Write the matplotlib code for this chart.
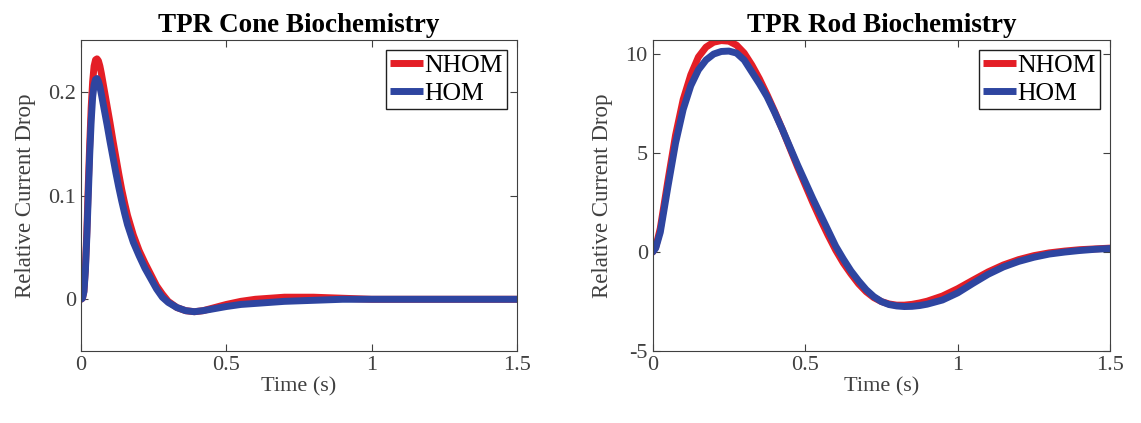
import numpy as np
import matplotlib.pyplot as plt

# cone data
cone_t = [0, 0.005, 0.01, 0.015, 0.02, 0.025, 0.03, 0.035, 0.04, 0.045, 0.05, 0.055, 0.06,
          0.065, 0.07, 0.08, 0.09, 0.1, 0.11, 0.12, 0.13, 0.14, 0.15, 0.16, 0.18, 0.2, 0.22,
          0.24, 0.26, 0.28, 0.3, 0.33, 0.36, 0.39, 0.42, 0.46, 0.5, 0.55, 0.6, 0.65, 0.7,
          0.8, 0.9, 1.0, 1.1, 1.2, 1.35, 1.5]
cone_nhom = [0, 0.001, 0.008, 0.03, 0.065, 0.11, 0.15, 0.185, 0.21, 0.225, 0.231, 0.232, 0.23,
             0.225, 0.218, 0.202, 0.186, 0.17, 0.153, 0.137, 0.121, 0.106, 0.093, 0.081, 0.062,
             0.047, 0.035, 0.024, 0.013, 0.005, -0.002, -0.008, -0.011, -0.012, -0.011, -0.008,
             -0.005, -0.002, 0.0, 0.001, 0.002, 0.002, 0.001, 0.0, 0.0, 0.0, 0.0, 0.0]
cone_hom = [0, 0.001, 0.007, 0.027, 0.06, 0.1, 0.14, 0.172, 0.195, 0.207, 0.212, 0.213, 0.21,
            0.205, 0.198, 0.183, 0.168, 0.152, 0.137, 0.122, 0.108, 0.095, 0.083, 0.072, 0.055,
            0.042, 0.03, 0.02, 0.01, 0.002, -0.003, -0.008, -0.011, -0.012, -0.011, -0.009,
            -0.007, -0.005, -0.004, -0.003, -0.002, -0.001, 0.0, 0.0, 0.0, 0.0, 0.0, 0.0]

# rod data
rod_t = [0, 0.01, 0.025, 0.05, 0.075, 0.1, 0.125, 0.15, 0.175, 0.2, 0.225, 0.25, 0.275, 0.3,
         0.325, 0.35, 0.375, 0.4, 0.425, 0.45, 0.475, 0.5, 0.525, 0.55, 0.575, 0.6, 0.625,
         0.65, 0.675, 0.7, 0.725, 0.75, 0.775, 0.8, 0.825, 0.85, 0.875, 0.9, 0.95, 1.0, 1.05,
         1.1, 1.15, 1.2, 1.25, 1.3, 1.35, 1.4, 1.45, 1.5]
rod_nhom = [0, 0.25, 1.2, 3.6, 5.9, 7.7, 8.95, 9.85, 10.35, 10.6, 10.68, 10.65, 10.45, 10.05,
            9.45, 8.75, 7.95, 7.1, 6.2, 5.25, 4.3, 3.4, 2.5, 1.65, 0.85, 0.1, -0.55,
            -1.1, -1.6, -2.0, -2.3, -2.5, -2.62, -2.68, -2.68, -2.64, -2.57, -2.48, -2.22, -1.85, -1.42,
            -1.0, -0.65, -0.38, -0.18, -0.04, 0.05, 0.12, 0.16, 0.2]
rod_hom = [0, 0.2, 1.0, 3.3, 5.5, 7.2, 8.4, 9.2, 9.7, 10.0, 10.13, 10.15, 10.05, 9.7,
           9.1, 8.5, 7.85, 7.05, 6.2, 5.3, 4.4, 3.55, 2.7, 1.9, 1.1, 0.3, -0.35,
           -0.95, -1.45, -1.9, -2.25, -2.5, -2.65, -2.72, -2.75, -2.74, -2.7, -2.63, -2.42, -2.06, -1.58,
           -1.12, -0.75, -0.47, -0.26, -0.1, 0.0, 0.08, 0.14, 0.18]

red = '#e41e26'
blue = '#2e45a0'

plt.rcParams['font.family'] = ['Liberation Serif', 'DejaVu Serif']
fig = plt.figure(figsize=(11.41, 4.23), dpi=100)
ax1 = fig.add_axes([0.071, 0.170, 0.382, 0.735])
ax2 = fig.add_axes([0.572, 0.170, 0.401, 0.735])

panels = [
    (ax1, cone_t, cone_nhom, cone_hom, 'TPR Cone Biochemistry', (-0.05, 0.25),
     [0, 0.1, 0.2], ['0', '0.1', '0.2']),
    (ax2, rod_t, rod_nhom, rod_hom, 'TPR Rod Biochemistry', (-5, 10.7),
     [-5, 0, 5, 10], ['-5', '0', '5', '10']),
]
for ax, t, nh, h, title, ylim, yt, ytl in panels:
    ax.plot(t, nh, color=red, lw=5, label='NHOM', solid_capstyle='round', solid_joinstyle='round')
    ax.plot(t, h, color=blue, lw=5, label='HOM', solid_capstyle='round', solid_joinstyle='round')
    ax.set_xlim(0, 1.5)
    ax.set_ylim(*ylim)
    ax.set_xticks([0, 0.5, 1, 1.5])
    ax.set_xticklabels(['0', '0.5', '1', '1.5'])
    ax.set_yticks(yt)
    ax.set_yticklabels(ytl)
    ax.tick_params(direction='in', top=True, right=True, labelsize=16,
                   colors='#404040', length=5, width=0.8)
    for s in ax.spines.values():
        s.set_color('#404040')
        s.set_linewidth(0.8)
    ax.set_title(title, fontsize=19.5, fontweight='bold', pad=6)
    ax.set_xlabel('Time (s)', fontsize=16, color='#404040', labelpad=2)
    ax.set_ylabel('Relative Current Drop', fontsize=16.5, color='#404040', labelpad=9)
    leg = ax.legend(loc='upper right', fontsize=18.5, handlelength=1.3, handletextpad=0.05,
                    borderpad=0.15, labelspacing=0.2, fancybox=False, framealpha=1,
                    borderaxespad=0.4)
    for ln in leg.get_lines():
        ln.set_solid_capstyle('butt')
    leg.get_frame().set_edgecolor('#202020')
    leg.get_frame().set_linewidth(1.0)

fig.savefig('out.png', dpi=100)
